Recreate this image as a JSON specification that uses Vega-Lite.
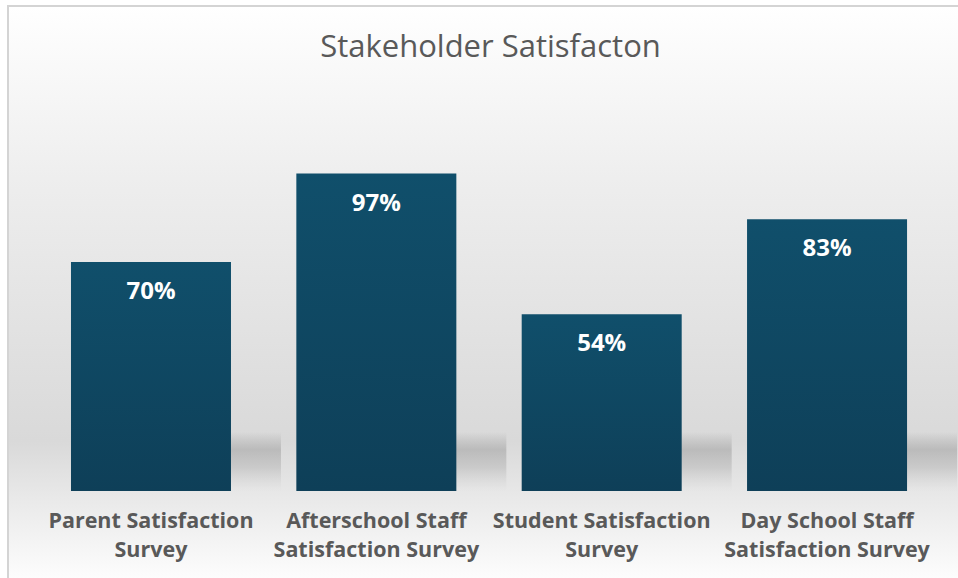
{
  "$schema": "https://vega.github.io/schema/vega-lite/v6.json",
  "width": 951,
  "height": 573,
  "autosize": "none",
  "padding": {"left": 8, "top": 6, "right": 0, "bottom": 0},
  "background": "#ffffff",
  "config": {
    "view": {
      "fill": {
        "gradient": "linear", "x1": 0, "y1": 0, "x2": 0, "y2": 1,
        "stops": [
          {"offset": 0, "color": "#ffffff"},
          {"offset": 0.3, "color": "#eeeeee"},
          {"offset": 0.76, "color": "#d9d9d9"},
          {"offset": 0.86, "color": "#e9e9e9"},
          {"offset": 1, "color": "#fdfdfd"}
        ]
      },
      "stroke": "#d4d4d4",
      "strokeWidth": 2
    }
  },
  "title": {
    "text": "Stakeholder Satisfacton",
    "font": "Open Sans",
    "fontSize": 31,
    "fontWeight": "normal",
    "color": "#595959",
    "anchor": "middle",
    "offset": -58,
    "dx": 7
  },
  "data": {
    "values": [
      {"survey": "Parent Satisfaction Survey", "label": "Parent Satisfaction\nSurvey", "value": 0.70},
      {"survey": "Afterschool Staff Satisfaction Survey", "label": "Afterschool Staff\nSatisfaction Survey", "value": 0.97},
      {"survey": "Student Satisfaction Survey", "label": "Student Satisfaction\nSurvey", "value": 0.54},
      {"survey": "Day School Staff Satisfaction Survey", "label": "Day School Staff\nSatisfaction Survey", "value": 0.83}
    ]
  },
  "encoding": {
    "x": {
      "field": "survey", "type": "nominal", "sort": null, "axis": null,
      "scale": {"paddingInner": 0.29, "paddingOuter": 0.255, "align": 0.548}
    }
  },
  "layer": [
    {
      "mark": {
        "type": "rect", "xOffset": 50,
        "fill": {
          "gradient": "linear", "x1": 0, "y1": 0, "x2": 0, "y2": 1,
          "stops": [
            {"offset": 0, "color": "rgba(160,160,160,0)"},
            {"offset": 0.3, "color": "rgba(165,165,165,0.6)"},
            {"offset": 0.6, "color": "rgba(175,175,175,0.45)"},
            {"offset": 1, "color": "rgba(200,200,200,0)"}
          ]
        }
      },
      "encoding": {
        "y": {"datum": 0.18, "type": "quantitative", "scale": {"domain": [-0.2689, 1.4818], "nice": false, "zero": false}, "axis": null},
        "y2": {"datum": 0.0}
      }
    },
    {
      "mark": {
        "type": "bar",
        "fill": {
          "gradient": "linear", "x1": 0, "y1": 0, "x2": 0, "y2": 1,
          "stops": [
            {"offset": 0, "color": "#104f6b"},
            {"offset": 1, "color": "#0e3f58"}
          ]
        }
      },
      "encoding": {
        "y": {"field": "value", "type": "quantitative", "scale": {"domain": [-0.2689, 1.4818], "nice": false, "zero": false}, "axis": null},
        "y2": {"datum": 0}
      }
    },
    {
      "mark": {"type": "text", "color": "#ffffff", "font": "Open Sans", "fontWeight": "bold", "fontSize": 24, "baseline": "middle", "dy": 30},
      "encoding": {
        "y": {"field": "value", "type": "quantitative"},
        "text": {"field": "value", "type": "quantitative", "format": ".0%"}
      }
    },
    {
      "mark": {"type": "text", "color": "#595959", "font": "Open Sans", "fontWeight": "bold", "fontSize": 21.5, "baseline": "alphabetic", "lineBreak": "\n", "lineHeight": 29},
      "encoding": {
        "y": {"datum": -0.113, "type": "quantitative"},
        "text": {"field": "label"}
      }
    }
  ]
}
